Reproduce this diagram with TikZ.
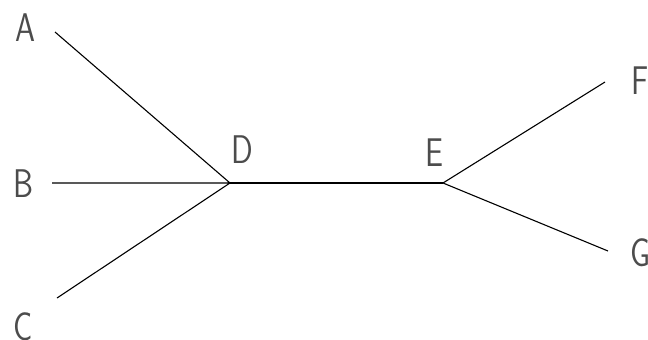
\documentclass[tikz,border=0pt]{standalone}
\usetikzlibrary{calc}
\tikzset{
  branch/.style={black,line width=1.1pt},
  letter/.style={inner sep=0pt,text=black!70,font=\sffamily\fontsize{40}{40}\selectfont,xscale=0.8}
}

\begin{document}
\begin{tikzpicture}[x=1pt,y=-1pt]
  \useasboundingbox(0,0)rectangle(648,340);
  \clip(0,0)rectangle(648,340);
  % ends of the branches
  \coordinate(a)at(55,32);
  \coordinate(b)at(52,183);
  \coordinate(c)at(57,298);
  \coordinate(d)at(230,183);
  \coordinate(e)at(443,183);
  \coordinate(f)at(605,82);
  \coordinate(g)at(608,251);
  \draw[branch](a)--(d)(b)--(d)(c)--(d);
  \draw[branch](d)--(e);
  \draw[branch](e)--(f)(e)--(g);
  % labels
  \node[letter](la)at(25.5,27.5){A};
  \node[letter](lb)at(24,184){B};
  \node[letter](lc)at(23,327){C};
  \node[letter](ld)at(242.5,150){D};
  \node[letter](le)at(434,152.5){E};
  \node[letter](lf)at(640,80.5){F};
  \node[letter](lg)at(641,253){G};
\end{tikzpicture}
\end{document}
